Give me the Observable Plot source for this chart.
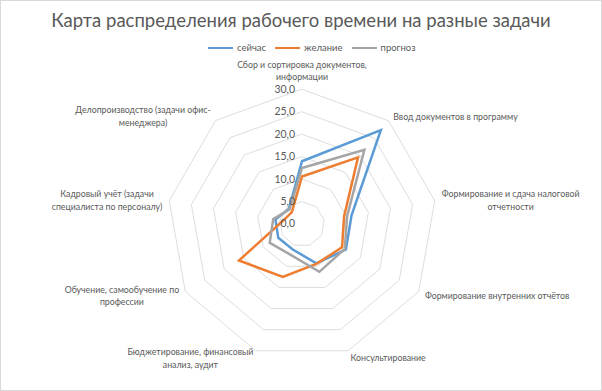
<!DOCTYPE html>
<html>
<head>
<meta charset="utf-8">
<script src="https://cdn.jsdelivr.net/npm/d3@7"></script>
<script src="https://cdn.jsdelivr.net/npm/@observablehq/plot@0.6"></script>
<style>
  html, body { margin: 0; padding: 0; background: #fff; }
  #wrap { position: relative; width: 602px; height: 391px; box-sizing: border-box; border: 1px solid #d9d9d9; overflow: hidden; font-family: Lato, "Open Sans", sans-serif; }
  #title { position: absolute; left: 0; width: 100%; top: 8px; text-align: center; font-size: 18.5px; color: #595959; }
  #legend { position: absolute; top: 41px; left: 207px; display: flex; align-items: center; font-size: 9.5px; color: #595959; }
  .item { display: flex; align-items: center; margin-right: 9px; }
  .sw { width: 25px; height: 0; border-top: 2.5px solid; margin-right: 4px; }
  #chart { position: absolute; left: -1px; top: -1px; }
</style>
</head>
<body>
<div id="wrap">
  <div id="title">Карта распределения рабочего времени на разные задачи</div>
  <div id="legend"></div>
  <div id="chart"></div>
</div>
<script>
// Categories (clockwise from top)
const categories = [
  "Сбор и сортировка документов,\nинформации",
  "Ввод документов в программу",
  "Формирование и сдача налоговой\nотчетности",
  "Формирование внутренних отчётов",
  "Консультирование",
  "Бюджетирование, финансовый\nанализ, аудит",
  "Обучение, самообучение по\nпрофессии",
  "Кадровый учёт (задачи\nспециалиста по персоналу)",
  "Делопроизводство (задачи офис-\nменеджера)"
];
const seriesNames = ["сейчас", "желание", "прогноз"];
const seriesColors = ["#5B9BD5", "#ED7D31", "#A5A5A5"];
const now    = [14.0, 27.3, 11.2, 11.3, 9.3, 6.0, 6.1, 6.0, 4.5];
const wish   = [10.6, 19.4, 9.5, 10.3, 9.4, 12.5, 16.2, 4.3, 3.5];
const future = [12.5, 21.6, 10.2, 11.0, 11.3, 7.3, 8.3, 6.5, 4.3];
const tickValues = [0, 5, 10, 15, 20, 25, 30];
const tickLabels = ["0,0", "5,0", "10,0", "15,0", "20,0", "25,0", "30,0"];

const maxV = 30;
const cx = 302, cy = 224, R = 135; // pixel geometry of the plot area
const pxPerUnit = R / maxV;
const n = categories.length;
const ang = i => (2 * Math.PI * i) / n;

// Series points
const seriesValues = [now, wish, future];
const points = [];
seriesValues.forEach((vals, s) => {
  vals.forEach((v, i) => {
    points.push({series: seriesNames[s], i, x: v * Math.sin(ang(i)), y: v * Math.cos(ang(i))});
  });
});

// Grid rings
const rings = [];
tickValues.filter(t => t > 0).forEach(t => {
  for (let i = 0; i < n; i++) rings.push({level: t, x: t * Math.sin(ang(i)), y: t * Math.cos(ang(i))});
});

// Tick labels
const ticks = tickValues.map((t, k) => ({x: 0, y: t, label: tickLabels[k]}));

// Category labels, placed like Excel: box adjacent to the outer vertex
const labelSize = 8.8;
const ctx = document.createElement("canvas").getContext("2d");
ctx.font = labelSize + "px Lato";
const catLabels = categories.map((c, i) => {
  const a = ang(i);
  const s = Math.sin(a), co = Math.cos(a);
  const top = co > 0.99;
  const gap = (top ? 9 : 7) / pxPerUnit;
  const ax = (maxV + gap) * s, ay = (maxV + gap) * co;
  const w = Math.max(...c.split("\n").map(l => ctx.measureText(l).width)) / pxPerUnit;
  let x = ax;
  if (s > 0.01) x = ax + w / 2;
  else if (s < -0.01) x = ax - w / 2;
  return {x, y: ay, text: c, top};
});

const chart = Plot.plot({
  width: 602,
  height: 391,
  margin: 0,
  x: {domain: [-maxV, maxV], range: [cx - R, cx + R], axis: null},
  y: {domain: [-maxV, maxV], range: [cy + R, cy - R], axis: null},
  color: {domain: seriesNames, range: seriesColors},
  style: {fontFamily: "Lato, 'Open Sans', sans-serif", background: "transparent"},
  marks: [
    Plot.line(rings, {x: "x", y: "y", z: "level", curve: "linear-closed", stroke: "#d9d9d9", strokeWidth: 0.9}),
    Plot.line(points, {x: "x", y: "y", z: "series", stroke: "series", curve: "linear-closed", strokeWidth: 2.5, strokeLinejoin: "miter", strokeMiterlimit: 10}),
    Plot.text(ticks, {x: "x", y: "y", text: "label", textAnchor: "end", dx: -7, fill: "#595959", fontSize: 10.5}),
    Plot.text(catLabels.filter(d => d.top), {x: "x", y: "y", text: "text", textAnchor: "middle", lineAnchor: "bottom", fill: "#595959", fontSize: labelSize, lineHeight: 1.45}),
    Plot.text(catLabels.filter(d => !d.top), {x: "x", y: "y", text: "text", textAnchor: "middle", lineAnchor: "middle", fill: "#595959", fontSize: labelSize, lineHeight: 1.45})
  ]
});
document.getElementById("chart").appendChild(chart);

// Legend
const legend = document.getElementById("legend");
seriesNames.forEach((name, k) => {
  const item = document.createElement("div");
  item.className = "item";
  const sw = document.createElement("div");
  sw.className = "sw";
  sw.style.borderTopColor = seriesColors[k];
  const t = document.createElement("span");
  t.textContent = name;
  item.appendChild(sw);
  item.appendChild(t);
  legend.appendChild(item);
});
</script>
</body>
</html>
